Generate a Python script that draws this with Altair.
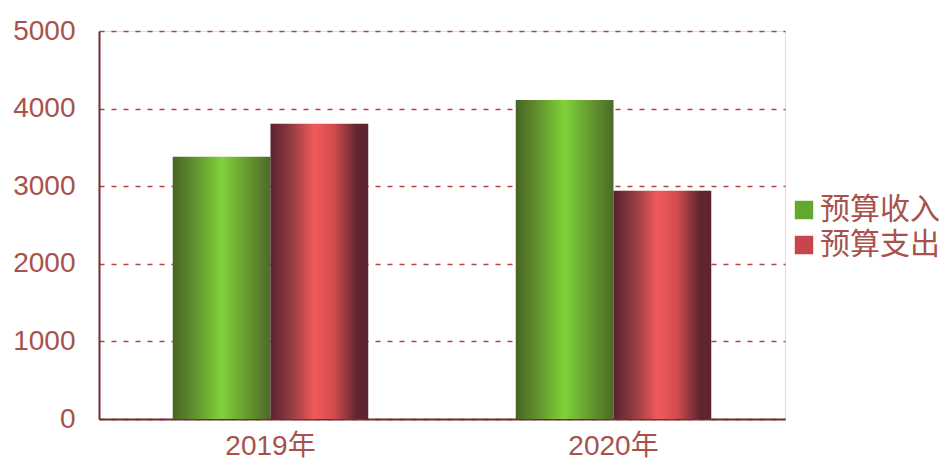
import altair as alt
import pandas as pd

years = ["2019年", "2020年"]
series = ["预算收入", "预算支出"]
income = [3380, 4110]
expense = [3805, 2940]
y_ticks = [0, 1000, 2000, 3000, 4000, 5000]

rows = []
for i, yr in enumerate(years):
    rows.append({"year": yr, "series": series[0], "value": income[i]})
    rows.append({"year": yr, "series": series[1], "value": expense[i]})
df = pd.DataFrame(rows)

TEXT = "#a8524b"
AXIS = "#6e2f33"
FONT = "Liberation Sans, Noto Sans CJK SC"

green_grad = alt.Gradient(
    gradient="linear", x1=0, x2=1, y1=0, y2=0,
    stops=[
        alt.GradientStop(offset=0, color="#486424"),
        alt.GradientStop(offset=0.2, color="#5f8c2c"),
        alt.GradientStop(offset=0.5, color="#80d23a"),
        alt.GradientStop(offset=0.78, color="#63962e"),
        alt.GradientStop(offset=1, color="#4c6a28"),
    ],
)
red_grad = alt.Gradient(
    gradient="linear", x1=0, x2=1, y1=0, y2=0,
    stops=[
        alt.GradientStop(offset=0, color="#5a2230"),
        alt.GradientStop(offset=0.2, color="#8e3a40"),
        alt.GradientStop(offset=0.45, color="#f25a5a"),
        alt.GradientStop(offset=0.65, color="#d24c4e"),
        alt.GradientStop(offset=0.88, color="#622530"),
        alt.GradientStop(offset=1, color="#5c2430"),
    ],
)

x_enc = alt.X(
    "year:N",
    sort=years,
    scale=alt.Scale(paddingInner=0.43, paddingOuter=0.215),
    axis=alt.Axis(
        title=None, labelAngle=0, ticks=False, grid=False,
        labelFontSize=28, labelColor=TEXT, labelFont=FONT, labelPadding=13,
        domainColor=AXIS, domainWidth=2,
    ),
)
xo_enc = alt.XOffset("series:N", sort=series, scale=alt.Scale(domain=series, paddingInner=0, paddingOuter=0))
y_enc = alt.Y(
    "value:Q",
    scale=alt.Scale(domain=[0, 5000], nice=False),
    axis=alt.Axis(
        title=None, values=y_ticks, ticks=False, grid=True, format="d",
        gridDash=[5, 7], gridColor="#b0443f", gridWidth=1.5,
        labelFontSize=28, labelColor=TEXT, labelFont=FONT, labelPadding=24,
        domainColor=AXIS, domainWidth=2,
    ),
)

base = alt.Chart(df)

inc_layer = base.transform_filter(alt.datum.series == series[0]).mark_bar(
    color=green_grad, fill=green_grad
).encode(x=x_enc, xOffset=xo_enc, y=y_enc)

exp_layer = base.transform_filter(alt.datum.series == series[1]).mark_bar(
    color=red_grad, fill=red_grad
).encode(x=x_enc, xOffset=xo_enc, y=y_enc)

legend_layer = base.mark_bar(opacity=0).encode(
    x=x_enc, xOffset=xo_enc, y=y_enc,
    color=alt.Color(
        "series:N",
        sort=series,
        scale=alt.Scale(domain=series, range=["#62a82e", "#c8454a"]),
        legend=alt.Legend(
            title=None, orient="none", legendX=690, legendY=164,
            symbolType="square", symbolSize=340, symbolOpacity=1,
            symbolStrokeWidth=0, labelFontSize=30, labelColor=TEXT,
            labelFont=FONT, labelOffset=1, rowPadding=5, padding=0,
        ),
    ),
)

chart = alt.layer(inc_layer, exp_layer, legend_layer).properties(
    width=686,
    height=388,
    autosize=alt.AutoSizeParams(type="none"),
    padding={"left": 91, "top": 23, "right": 158, "bottom": 42},
).configure_view(stroke=None, strokeWidth=0).configure(background="white")

chart.save("out.html", embed_options={"renderer": "svg", "actions": False})
